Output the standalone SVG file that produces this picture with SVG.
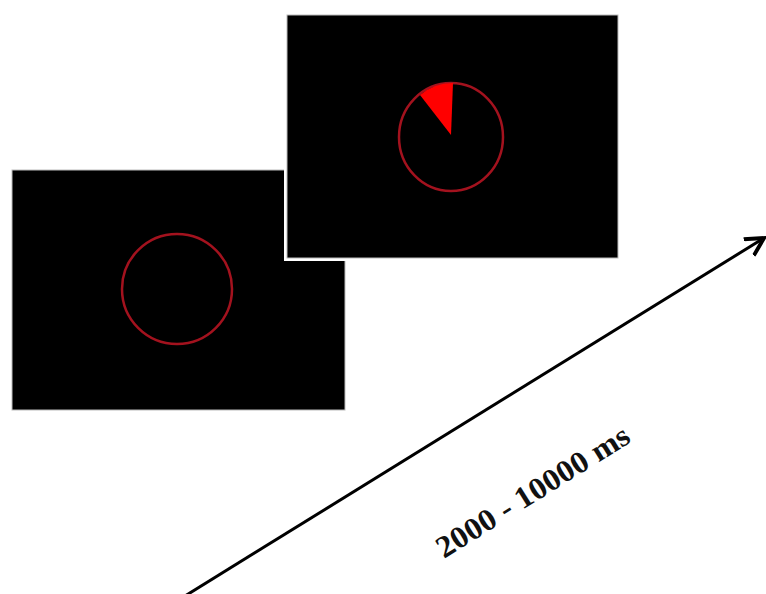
<svg xmlns="http://www.w3.org/2000/svg" width="766" height="594" viewBox="0 0 766 594">
<style>
.panel{fill:#000;stroke:#bbb;stroke-width:1}
.ring{fill:none;stroke:#a3121e;stroke-width:2.5}
.axis{fill:none;stroke:#000;stroke-width:3}
.lbl{font-family:"Liberation Serif","Times New Roman",serif;font-weight:bold;font-size:31px;fill:#111}
</style>
<defs>
<marker id="ah" markerWidth="8" markerHeight="8" refX="6" refY="4" orient="auto" markerUnits="strokeWidth">
<path d="M0,0.8 L6,4 L0,7.2" fill="none" stroke="#000" stroke-width="1.3"/>
</marker>
</defs>
<rect width="766" height="594" fill="#fff"/>
<g id="screen1">
<rect class="panel" x="12" y="170" width="333" height="240"/>
<circle class="ring" cx="177" cy="289" r="55"/>
</g>
<g id="screen2">
<rect x="284" y="12" width="337" height="249" fill="#fff"/>
<rect class="panel" x="287" y="15" width="331" height="243"/>
<ellipse class="ring" cx="451" cy="137" rx="52" ry="54" stroke-width="2"/>
<path d="M451,135 L453,83 A52,54 0 0,0 420,95 Z" fill="#ff0000"/>
</g>
<g id="connectors">
<line class="axis" x1="185" y1="596" x2="764" y2="238" marker-end="url(#ah)"/>
</g>
<g id="label">
<text class="lbl" transform="translate(444,559) rotate(-32)" textLength="222" lengthAdjust="spacingAndGlyphs">2000 - 10000 ms</text>
</g>
</svg>
